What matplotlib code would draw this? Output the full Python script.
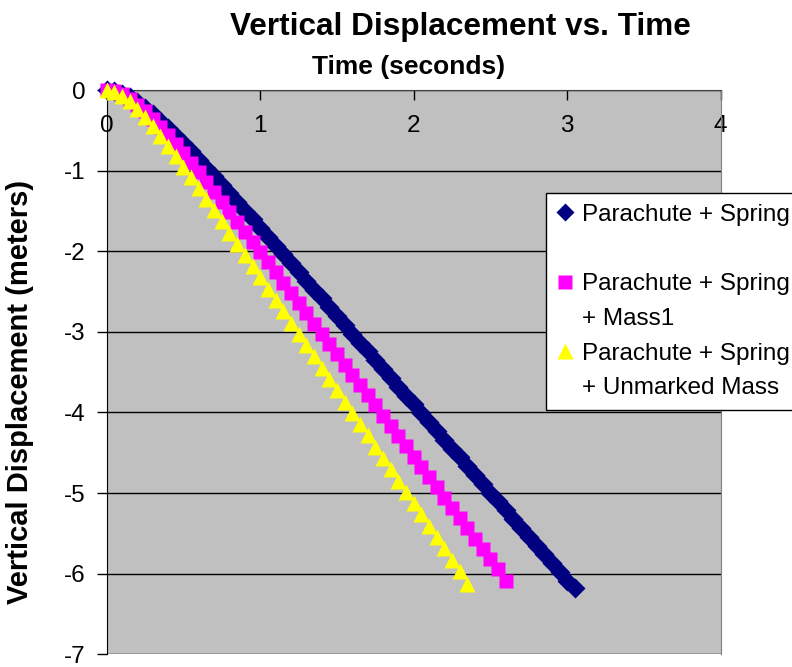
import matplotlib
matplotlib.use("Agg")
import matplotlib.pyplot as plt
from matplotlib.lines import Line2D

plt.rcParams['font.family'] = ['Liberation Sans', 'DejaVu Sans']
plt.rcParams['axes.unicode_minus'] = False

# sample times (s), shared by the three runs
time_s = [0.00, 0.05, 0.10, 0.15, 0.20, 0.25, 0.30, 0.35, 0.40, 0.45,
          0.50, 0.55, 0.60, 0.65, 0.70, 0.75, 0.80, 0.85, 0.90, 0.95,
          1.00, 1.05, 1.10, 1.15, 1.20, 1.25, 1.30, 1.35, 1.40, 1.45,
          1.50, 1.55, 1.60, 1.65, 1.70, 1.75, 1.80, 1.85, 1.90, 1.95,
          2.00, 2.05, 2.10, 2.15, 2.20, 2.25, 2.30, 2.35, 2.40, 2.45,
          2.50, 2.55, 2.60, 2.65, 2.70, 2.75, 2.80, 2.85, 2.90, 2.95,
          3.00, 3.05]

# vertical displacement (m)
spring = [0.000, -0.012, -0.043, -0.090, -0.150, -0.220, -0.298, -0.383, -0.472, -0.566,
          -0.663, -0.762, -0.864, -0.967, -1.071, -1.177, -1.283, -1.390, -1.497, -1.605,
          -1.713, -1.822, -1.930, -2.039, -2.148, -2.257, -2.366, -2.476, -2.585, -2.695,
          -2.804, -2.914, -3.023, -3.133, -3.242, -3.352, -3.461, -3.571, -3.680, -3.790,
          -3.899, -4.009, -4.118, -4.228, -4.337, -4.447, -4.556, -4.666, -4.775, -4.885,
          -4.994, -5.104, -5.213, -5.323, -5.432, -5.542, -5.651, -5.761, -5.870, -5.980,
          -6.089, -6.180]

mass1 = [0.000, -0.014, -0.052, -0.109, -0.180, -0.264, -0.357, -0.456, -0.562, -0.672,
         -0.786, -0.903, -1.021, -1.142, -1.264, -1.387, -1.510, -1.635, -1.760, -1.885,
         -2.011, -2.137, -2.263, -2.390, -2.516, -2.643, -2.770, -2.897, -3.024, -3.151,
         -3.278, -3.405, -3.532, -3.659, -3.786, -3.913, -4.040, -4.167, -4.294, -4.421,
         -4.548, -4.675, -4.802, -4.929, -5.056, -5.183, -5.310, -5.437, -5.564, -5.691,
         -5.818, -5.945, -6.085]

unmarked = [0.000, -0.019, -0.068, -0.141, -0.231, -0.333, -0.445, -0.565, -0.689, -0.818,
            -0.949, -1.083, -1.218, -1.354, -1.492, -1.630, -1.768, -1.907, -2.046, -2.186,
            -2.325, -2.465, -2.605, -2.745, -2.884, -3.024, -3.164, -3.304, -3.444, -3.584,
            -3.724, -3.864, -4.004, -4.144, -4.284, -4.424, -4.564, -4.704, -4.844, -4.984,
            -5.124, -5.264, -5.404, -5.544, -5.684, -5.824, -5.964, -6.130]

x_ticks = [0, 1, 2, 3, 4]
y_ticks = [0, -1, -2, -3, -4, -5, -6, -7]

fig = plt.figure(figsize=(7.92, 6.67), dpi=100)
ax = fig.add_axes([0.1347, 0.019, 0.7753, 0.846])
ax.set_facecolor('#C0C0C0')

ax.plot(time_s[:len(spring)], spring, ls='none', marker='D', ms=10,
        color='#000080', mec='none', clip_on=False, zorder=3)
ax.plot(time_s[:len(mass1)], mass1, ls='none', marker='s', ms=10,
        color='#FF00FF', mec='none', clip_on=False, zorder=4)
ax.plot(time_s[:len(unmarked)], unmarked, ls='none', marker='^', ms=11.5,
        color='#FFFF00', mec='none', clip_on=False, zorder=5)

ax.set_xlim(0, 4)
ax.set_ylim(-7, 0)
ax.set_xticks(x_ticks)
ax.set_yticks(y_ticks)

# x axis crosses at y = 0 (top of the plot area), Excel style
ax.spines['bottom'].set_position(('data', 0))
ax.spines['bottom'].set_color('#404040')
ax.spines['top'].set_visible(False)
ax.spines['left'].set_color('black')
ax.spines['right'].set_color('#808080')
ax.tick_params(axis='x', direction='out', length=7, width=1, pad=11,
               labelsize=17.5, colors='black')
ax.tick_params(axis='y', direction='out', length=7, width=1, pad=8,
               labelsize=17.5)
ax.yaxis.grid(True, color='black', lw=1)
ax.set_axisbelow(True)

fig.text(460 / 792, 1 - 27 / 667, 'Vertical Displacement vs. Time',
         ha='center', va='center', fontsize=22.7, fontweight='bold')
fig.text(409 / 792, 1 - 67 / 667, 'Time (seconds)',
         ha='center', va='center', fontsize=19, fontweight='bold')
fig.text(20 / 792, 1 - 392 / 667, 'Vertical Displacement (meters)',
         ha='center', va='center', rotation=90, fontsize=21, fontweight='bold')

blank = Line2D([], [], ls='none', marker='none')
handles = [
    Line2D([], [], ls='none', marker='D', ms=9, color='#000080', mec='none'),
    blank,
    Line2D([], [], ls='none', marker='s', ms=10, color='#FF00FF', mec='none'),
    blank,
    Line2D([], [], ls='none', marker='^', ms=11, color='#FFFF00', mec='none'),
    blank,
]
labels = ['Parachute + Spring', ' ',
          'Parachute + Spring', '+ Mass1',
          'Parachute + Spring', '+ Unmarked Mass']
leg = fig.legend(handles, labels, loc='upper left',
                 bbox_to_anchor=(546 / 792, 1 - 193 / 667),
                 fontsize=17.5, frameon=True, fancybox=False, shadow=False,
                 edgecolor='black', framealpha=1, borderpad=0.45,
                 labelspacing=0.52, handlelength=0.7, handletextpad=0.35,
                 borderaxespad=0)
leg.get_frame().set_linewidth(1)

fig.savefig('out.png', dpi=100)
